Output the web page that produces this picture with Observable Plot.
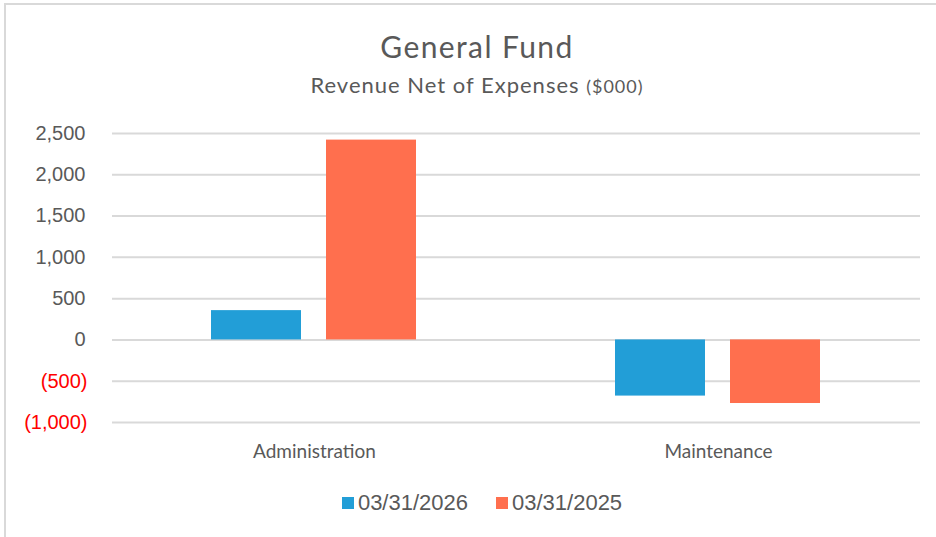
<!DOCTYPE html>
<html>
<head>
<meta charset="utf-8">
<script src="https://cdn.jsdelivr.net/npm/d3@7"></script>
<script src="https://cdn.jsdelivr.net/npm/@observablehq/plot@0.6"></script>
<style>
  html, body { margin: 0; padding: 0; background: #fff; }
  #page { position: relative; width: 936px; height: 537px; overflow: hidden; }
  #frame { position: absolute; left: 4px; top: 3px; right: -4px; bottom: -4px;
           border-top: 2px solid #d9d9d9; border-left: 2px solid #d9d9d9; }
  #title { position: absolute; left: 0; width: 954px; top: 28px; text-align: center;
           font-family: Lato, sans-serif; font-size: 30px; letter-spacing: 1.4px; color: #595959; line-height: 36px; }
  #subtitle { position: absolute; left: 0; width: 954px; top: 72px; text-align: center;
           font-family: Lato, sans-serif; font-size: 22px; letter-spacing: 1px; color: #595959; line-height: 26px; }
  #subtitle .small { font-size: 18px; letter-spacing: 1px; }
  #chart { position: absolute; left: 0; top: 110px; }
  #legend { position: absolute; left: 0; width: 964px; top: 490px; text-align: center;
            font-family: "Liberation Sans", Arial, sans-serif; font-size: 22px; color: #595959; line-height: 26px; }
  #legend .item { display: inline-block; margin: 0 14px; }
  #legend .sw { display: inline-block; width: 12px; height: 12px; margin-right: 4px; vertical-align: 1px; }
</style>
</head>
<body>
<div id="page">
  <div id="frame"></div>
  <div id="title">General Fund</div>
  <div id="subtitle">Revenue Net of Expenses <span class="small">($000)</span></div>
  <div id="chart"></div>
  <div id="legend"></div>
</div>
<script>
const categories = ["Administration", "Maintenance"];
const seriesNames = ["03/31/2026", "03/31/2025"];
const seriesColors = ["#229ed7", "#ff6f4e"];
const values2026 = [355, -680];
const values2025 = [2420, -770];
const yTicks = [-1000, -500, 0, 500, 1000, 1500, 2000, 2500];

const rows = [];
categories.forEach((c, i) => {
  rows.push({category: c, series: seriesNames[0], value: values2026[i]});
  rows.push({category: c, series: seriesNames[1], value: values2025[i]});
});

const fmt = d => d < 0 ? `(${d3.format(",")(-d)})` : d3.format(",")(d);

const chart = Plot.plot({
  width: 936,
  height: 370,
  marginLeft: 112,
  marginRight: 16,
  marginTop: 23,
  marginBottom: 58,
  style: {background: "transparent"},
  fx: {domain: categories, padding: 0, axis: null},
  x: {domain: seriesNames, paddingInner: 0.217, paddingOuter: 0.865, axis: null},
  y: {domain: [-1000, 2500], axis: null},
  color: {domain: seriesNames, range: seriesColors},
  marks: [
    Plot.ruleY(yTicks, {stroke: "#d9d9d9", strokeWidth: 2}),
    Plot.barY(rows, {fx: "category", x: "series", y: "value", fill: "series"}),
    Plot.text(yTicks.filter(d => d >= 0), {fx: () => categories[0], y: d => d, text: fmt,
      frameAnchor: "left", textAnchor: "end", dx: -27,
      fill: "#595959", fontSize: 20, fontFamily: "Liberation Sans, Arial, sans-serif"}),
    Plot.text(yTicks.filter(d => d < 0), {fx: () => categories[0], y: d => d, text: fmt,
      frameAnchor: "left", textAnchor: "end", dx: -25,
      fill: "#ff0000", fontSize: 20, fontFamily: "Liberation Sans, Arial, sans-serif"}),
    Plot.text(categories, {fx: d => d, text: d => d, frameAnchor: "bottom", dy: 35,
      fill: "#595959", fontSize: 19, fontFamily: "Lato, sans-serif", letterSpacing: "1.9px"})
  ]
});
document.getElementById("chart").appendChild(chart);

const legend = document.getElementById("legend");
seriesNames.forEach((s, i) => {
  const item = document.createElement("span");
  item.className = "item";
  item.innerHTML = `<span class="sw" style="background:${seriesColors[i]}"></span>${s}`;
  legend.appendChild(item);
});
</script>
</body>
</html>
